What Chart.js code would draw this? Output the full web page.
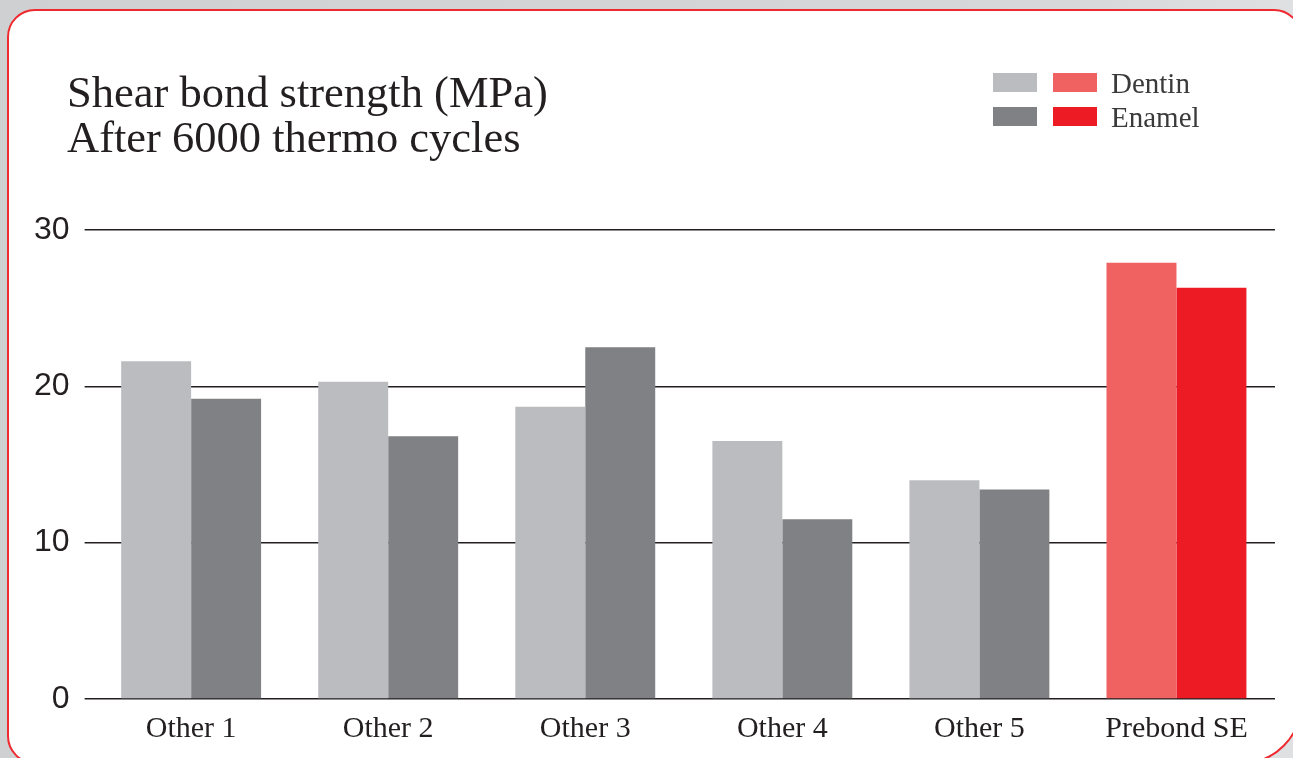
<!DOCTYPE html>
<html>
<head>
<meta charset="utf-8">
<script src="https://cdn.jsdelivr.net/npm/chart.js@4.4.1/dist/chart.umd.min.js"></script>
<style>
  html, body { margin: 0; padding: 0; }
  body { width: 1293px; height: 758px; overflow: hidden; position: relative;
         background: linear-gradient(90deg, #cfd0d2 0%, #d6d7d9 80%, #dfe0e2 100%); }
  #card { position: absolute; left: 7px; top: 9px; width: 1295px; height: 755px;
          box-sizing: border-box; background: #fff; border: 2px solid #ee2a30;
          border-radius: 28px 28px 60px 28px; }
  #wrap { position: absolute; left: 0; top: 0; width: 1293px; height: 758px; }
</style>
</head>
<body>
<div id="card"></div>
<div id="wrap"><canvas id="chart"></canvas></div>
<script>
var categories = ['Other 1', 'Other 2', 'Other 3', 'Other 4', 'Other 5', 'Prebond SE'];
var dentin = [21.6, 20.3, 18.7, 16.5, 14.0, 27.9];
var enamel = [19.2, 16.8, 22.5, 11.5, 13.4, 26.3];
var yTicks = [0, 10, 20, 30];
var titleLines = ['Shear bond strength (MPa)', 'After 6000 thermo cycles'];
var legendLabels = ['Dentin', 'Enamel'];

var grayDentin = '#bbbcc0', grayEnamel = '#808184';
var redDentin = '#f06161', redEnamel = '#ed1c24';
var ink = '#231f20';

function colorsFor(gray, red) {
  var c = [];
  for (var i in categories) {
    c.push(categories[i] === 'Prebond SE' ? red : gray);
  }
  return c;
}

// title + two-swatch legend, drawn at fixed spots like the printed chart
var headerPlugin = {
  id: 'header',
  afterDraw: function(chart) {
    var ctx = chart.ctx;
    ctx.save();
    ctx.fillStyle = ink;
    ctx.font = '44.5px "Liberation Serif", serif';
    ctx.textBaseline = 'alphabetic';
    ctx.textAlign = 'left';
    ctx.fillText(titleLines[0], 67, 107);
    ctx.fillText(titleLines[1], 67, 152);

    var ds = chart.data.datasets;
    ctx.font = '29px "Liberation Serif", serif';
    ctx.textBaseline = 'middle';
    for (var i = 0; i < legendLabels.length; i++) {
      var y = 73 + i * 34;
      var bg = ds[i].backgroundColor;
      ctx.fillStyle = bg[0];
      ctx.fillRect(993, y, 44, 19);
      ctx.fillStyle = bg[bg.length - 1];
      ctx.fillRect(1053, y, 44, 19);
      ctx.fillStyle = '#3a3a3a';
      ctx.fillText(legendLabels[i], 1111, y + 12);
    }
    ctx.restore();
  }
};

var ctx = document.getElementById('chart');
var barGraph = new Chart(ctx, {
  type: 'bar',
  data: {
    labels: categories,
    datasets: [
      { label: 'Dentin', data: dentin, backgroundColor: colorsFor(grayDentin, redDentin), borderWidth: 0 },
      { label: 'Enamel', data: enamel, backgroundColor: colorsFor(grayEnamel, redEnamel), borderWidth: 0 }
    ]
  },
  options: {
    responsive: true,
    maintainAspectRatio: false,
    animation: false,
    layout: { padding: { top: 230, left: 19, right: 18, bottom: 7 } },
    datasets: { bar: { barPercentage: 1.0, categoryPercentage: 0.71 } },
    plugins: {
      legend: { display: false },
      title: { display: false },
      tooltip: { enabled: false }
    },
    scales: {
      x: {
        grid: { display: false },
        border: { display: false },
        ticks: {
          color: ink,
          padding: 4,
          font: { family: '"Liberation Serif", serif', size: 30 }
        }
      },
      y: {
        min: 0,
        max: 30,
        afterBuildTicks: function(scale) {
          scale.ticks = yTicks.map(function(v) { return { value: v }; });
        },
        border: { display: false },
        grid: { color: ink, lineWidth: 1.5, tickLength: 8, drawTicks: true },
        ticks: {
          color: ink,
          padding: 15,
          font: { family: '"Liberation Sans", Arial, sans-serif', size: 32 }
        }
      }
    }
  },
  plugins: [headerPlugin]
});
</script>
</body>
</html>
